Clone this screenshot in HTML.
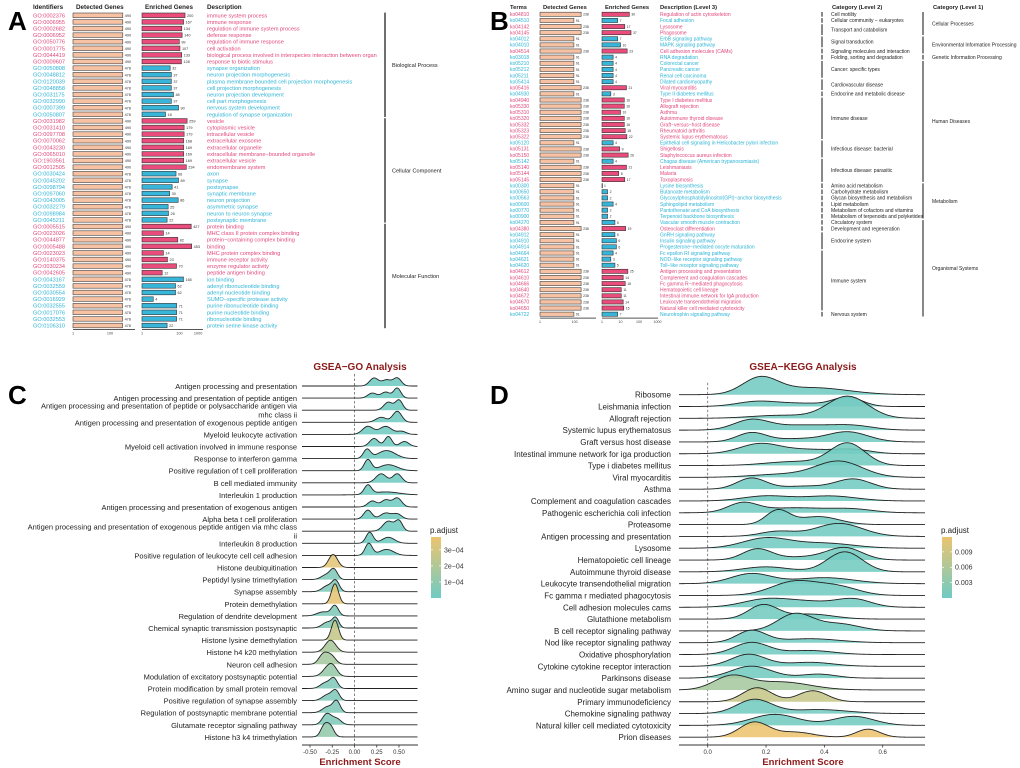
<!DOCTYPE html>
<html><head><meta charset="utf-8">
<style>
html,body{margin:0;padding:0;background:#fff;}
svg{display:block;font-family:"Liberation Sans",sans-serif;}
</style></head>
<body>
<svg id="fig" width="1020" height="768" viewBox="0 0 1020 768" xmlns="http://www.w3.org/2000/svg">
<text x="8" y="30" font-size="26" font-weight="bold">A</text>
<text x="490" y="30" font-size="26" font-weight="bold">B</text>
<text x="8" y="404" font-size="26" font-weight="bold">C</text>
<text x="490" y="404" font-size="26" font-weight="bold">D</text>
<g id="pa"></g>
<g id="pb"></g>
<g id="pc"></g>
<g id="pd"></g>
</svg>
<script>
// ---------- Panel A data ----------
const goIds=["GO:0002376","GO:0006955","GO:0002682","GO:0006952","GO:0050776","GO:0001775","GO:0044419","GO:0009607","GO:0050808","GO:0048812","GO:0120039","GO:0048858","GO:0031175","GO:0032990","GO:0007399","GO:0050807","GO:0031982","GO:0031410","GO:0097708","GO:0070062","GO:0043230","GO:0065010","GO:1903561","GO:0012505","GO:0030424","GO:0045202","GO:0098794","GO:0097060","GO:0043005","GO:0032279","GO:0098984","GO:0045211","GO:0005515","GO:0023026","GO:0044877","GO:0005488","GO:0023023","GO:0140375","GO:0030234","GO:0042605","GO:0043167","GO:0032559","GO:0030554","GO:0016929","GO:0032555","GO:0017076","GO:0032553","GO:0106310"];
const goDetected=[490,490,490,490,490,490,490,490,478,478,478,478,478,478,478,478,490,490,490,490,490,490,490,490,478,478,478,478,478,478,478,478,490,490,490,490,490,490,490,490,478,478,478,478,478,478,478,478];
const goEnriched=[200,167,134,140,99,107,133,128,32,37,37,37,48,37,90,18,259,179,179,168,169,169,169,234,66,89,41,30,86,25,26,22,427,14,82,453,14,23,70,12,165,62,62,4,71,71,71,22];
const goUp=[1,1,1,1,1,1,1,1,0,0,0,0,0,0,0,0,1,1,1,1,1,1,1,1,0,0,0,0,0,0,0,0,1,1,1,1,1,1,1,1,0,0,0,0,0,0,0,0];
const goDesc=["immune system process","immune response","regulation of immune system process","defense response","regulation of immune response","cell activation","biological process involved in interspecies interaction between organ","response to biotic stimulus","synapse organization","neuron projection morphogenesis","plasma membrane bounded cell projection morphogenesis","cell projection morphogenesis","neuron projection development","cell part morphogenesis","nervous system development","regulation of synapse organization","vesicle","cytoplasmic vesicle","intracellular vesicle","extracellular exosome","extracellular organelle","extracellular membrane−bounded organelle","extracellular vesicle","endomembrane system","axon","synapse","postsynapse","synaptic membrane","neuron projection","asymmetric synapse","neuron to neuron synapse","postsynaptic membrane","protein binding","MHC class II protein complex binding","protein−containing complex binding","binding","MHC protein complex binding","immune receptor activity","enzyme regulator activity","peptide antigen binding","ion binding","adenyl ribonucleotide binding","adenyl nucleotide binding","SUMO−specific protease activity","purine ribonucleotide binding","purine nucleotide binding","ribonucleotide binding","protein serine kinase activity"];
const goCats=["Biological Process","Cellular Component","Molecular Function"];
const goCatStart=[0,16,32];
const goCatEnd=[15,31,47];
// ---------- Panel B data ----------
const koIds=["ko04810","ko04510","ko04142","ko04145","ko04012","ko04010","ko04514","ko03018","ko05210","ko05212","ko05211","ko05414","ko05416","ko04930","ko04940","ko05330","ko05310","ko05320","ko05332","ko05323","ko05322","ko05120","ko05131","ko05150","ko05142","ko05140","ko05144","ko05145","ko00300","ko00650","ko00563","ko00600","ko00770","ko00900","ko04270","ko04380","ko04912","ko04910","ko04914","ko04664","ko04621","ko04620","ko04612","ko04610","ko04666","ko04640","ko04672","ko04670","ko04650","ko04722"];
const koDetected=[238,91,238,238,91,91,238,91,91,91,91,91,238,91,238,238,238,238,238,238,238,91,238,238,91,238,238,238,91,91,91,91,91,91,91,238,91,91,91,91,91,91,238,238,238,238,238,238,238,91];
const koEnriched=[30,7,17,37,7,10,23,4,4,4,4,4,21,3,16,16,10,16,16,18,22,4,9,26,4,21,8,17,1,2,2,4,2,2,5,19,5,6,6,4,3,5,25,14,18,11,11,14,15,7];
const koUp=[1,0,1,1,0,0,1,0,0,0,0,0,1,0,1,1,1,1,1,1,1,0,1,1,0,1,1,1,0,0,0,0,0,0,0,1,0,0,0,0,0,0,1,1,1,1,1,1,1,0];
const koDesc=["Regulation of actin cytoskeleton","Focal adhesion","Lysosome","Phagosome","ErbB signaling pathway","MAPK signaling pathway","Cell adhesion molecules (CAMs)","RNA degradation","Colorectal cancer","Pancreatic cancer","Renal cell carcinoma","Dilated cardiomyopathy","Viral myocarditis","Type II diabetes mellitus","Type I diabetes mellitus","Allograft rejection","Asthma","Autoimmune thyroid disease","Graft−versus−host disease","Rheumatoid arthritis","Systemic lupus erythematosus","Epithelial cell signaling in Helicobacter pylori infection","Shigellosis","Staphylococcus aureus infection","Chagas disease (American trypanosomiasis)","Leishmaniasis","Malaria","Toxoplasmosis","Lysine biosynthesis","Butanoate metabolism","Glycosylphosphatidylinositol(GPI)−anchor biosynthesis","Sphingolipid metabolism","Pantothenate and CoA biosynthesis","Terpenoid backbone biosynthesis","Vascular smooth muscle contraction","Osteoclast differentiation","GnRH signaling pathway","Insulin signaling pathway","Progesterone−mediated oocyte maturation","Fc epsilon RI signaling pathway","NOD−like receptor signaling pathway","Toll−like receptor signaling pathway","Antigen processing and presentation","Complement and coagulation cascades","Fc gamma R−mediated phagocytosis","Hematopoietic cell lineage","Intestinal immune network for IgA production","Leukocyte transendothelial migration","Natural killer cell mediated cytotoxicity","Neurotrophin signaling pathway"];
const lvl2Names=["Cell motility","Cellular community − eukaryotes","Transport and catabolism","Signal transduction","Signaling molecules and interaction","Folding, sorting and degradation","Cancer: specific types","Cardiovascular disease","Endocrine and metabolic disease","Immune disease","Infectious disease: bacterial","Infectious disease: parasitic","Amino acid metabolism","Carbohydrate metabolism","Glycan biosynthesis and metabolism","Lipid metabolism","Metabolism of cofactors and vitamins","Metabolism of terpenoids and polyketides","Circulatory system","Development and regeneration","Endocrine system","Immune system","Nervous system"];
const lvl2Start=[0,1,2,4,6,7,8,11,13,14,21,24,28,29,30,31,32,33,34,35,36,39,49];
const lvl2End=[0,1,3,5,6,7,10,12,13,20,23,27,28,29,30,31,32,33,34,35,38,48,49];
const lvl1Names=["Cellular Processes","Environmental Information Processing","Genetic Information Processing","Human Diseases","Metabolism","Organismal Systems"];
const lvl1Start=[0,4,7,8,28,34];
const lvl1End=[3,6,7,27,33,49];
// ---------- Panel C data ----------
const goTerms=["Antigen processing and presentation","Antigen processing and presentation of peptide antigen","Antigen processing and presentation of peptide or polysaccharide antigen via|mhc class ii","Antigen processing and presentation of exogenous peptide antigen","Myeloid leukocyte activation","Myeloid cell activation involved in immune response","Response to interferon gamma","Positive regulation of t cell proliferation","B cell mediated immunity","Interleukin 1 production","Antigen processing and presentation of exogenous antigen","Alpha beta t cell proliferation","Antigen processing and presentation of exogenous peptide antigen via mhc class|ii","Interleukin 8 production","Positive regulation of leukocyte cell cell adhesion","Histone deubiquitination","Peptidyl lysine trimethylation","Synapse assembly","Protein demethylation","Regulation of dendrite development","Chemical synaptic transmission postsynaptic","Histone lysine demethylation","Histone h4 k20 methylation","Neuron cell adhesion","Modulation of excitatory postsynaptic potential","Protein modification by small protein removal","Positive regulation of synapse assembly","Regulation of postsynaptic membrane potential","Glutamate receptor signaling pathway","Histone h3 k4 trimethylation"];
const goPadj=[1e-5,1e-5,1e-5,1e-5,1e-5,1e-5,1e-5,1e-5,1e-5,1e-5,1e-5,1e-5,1e-5,1e-5,1e-5,3.5e-4,5e-5,5e-5,3.6e-4,5e-5,6e-5,2.6e-4,1.8e-4,1.7e-4,1.2e-4,5e-5,5e-5,5e-5,5e-5,1.1e-4];
const goRidges=[
[[0.22,8,0.05],[0.36,6,0.05],[0.48,8,0.045]],
[[0.2,5,0.05],[0.35,6,0.05],[0.48,10,0.04]],
[[0.38,8,0.05],[0.5,10,0.04]],
[[0.3,5,0.06],[0.48,11,0.05]],
[[0.15,8,0.06],[0.35,8,0.07],[0.53,3,0.05]],
[[0.22,8,0.05],[0.38,10,0.04],[0.56,5,0.05]],
[[0.14,9,0.04],[0.36,8,0.1]],
[[0.15,11,0.04],[0.38,6,0.1]],
[[0.3,9,0.06],[0.48,9,0.05]],
[[0.15,9,0.04],[0.35,3,0.15]],
[[0.2,6,0.05],[0.35,7,0.05],[0.48,9,0.05]],
[[0.15,9,0.045],[0.35,6,0.06],[0.48,5,0.05]],
[[0.38,10,0.06],[0.5,10,0.04]],
[[0.17,11,0.04],[0.38,6,0.07]],
[[0.16,12,0.04],[0.36,6,0.08]],
[[-0.24,13,0.05]],
[[-0.31,5,0.06],[-0.23,9,0.04]],
[[-0.3,6,0.06],[-0.21,10,0.04]],
[[-0.22,20,0.04]],
[[-0.35,4,0.07],[-0.22,10,0.04]],
[[-0.3,6,0.06],[-0.21,9,0.035]],
[[-0.22,20,0.04]],
[[-0.27,12,0.06]],
[[-0.35,10,0.05],[-0.26,8,0.05]],
[[-0.3,8,0.06],[-0.24,7,0.05]],
[[-0.32,6,0.06],[-0.23,9,0.04]],
[[-0.3,6,0.06],[-0.21,9,0.04]],
[[-0.3,6,0.06],[-0.2,11,0.04]],
[[-0.31,11,0.05],[-0.2,6,0.05]],
[[-0.34,11,0.04],[-0.27,10,0.04]]];
const goTicks=[-0.5,-0.25,0,0.25,0.5];
const goTickLabels=["-0.50","-0.25","0.00","0.25","0.50"];
const goLegTicks=[3e-4,2e-4,1e-4];
const goLegLabels=["3e−04","2e−04","1e−04"];
// ---------- Panel D data ----------
const keggTerms=["Ribosome","Leishmania infection","Allograft rejection","Systemic lupus erythematosus","Graft versus host disease","Intestinal immune network for iga production","Type i diabetes mellitus","Viral myocarditis","Asthma","Complement and coagulation cascades","Pathogenic escherichia coli infection","Proteasome","Antigen processing and presentation","Lysosome","Hematopoietic cell lineage","Autoimmune thyroid disease","Leukocyte transendothelial migration","Fc gamma r mediated phagocytosis","Cell adhesion molecules cams","Glutathione metabolism","B cell receptor signaling pathway","Nod like receptor signaling pathway","Oxidative phosphorylation","Cytokine cytokine receptor interaction","Parkinsons disease","Amino sugar and nucleotide sugar metabolism","Primary immunodeficiency","Chemokine signaling pathway","Natural killer cell mediated cytotoxicity","Prion diseases"];
const keggPadj=[4e-4,4e-4,6e-4,4e-4,4e-4,6e-4,5e-4,4e-4,4e-4,4e-4,4e-4,4e-4,4e-4,4e-4,5e-4,5e-4,4e-4,4e-4,4e-4,5e-4,4e-4,4e-4,4e-4,4e-4,5e-4,0.0052,0.0082,5e-4,5e-4,0.0119];
const keggRidges=[
[[0.18,16,0.06],[0.36,7,0.12]],
[[0.17,5,0.07],[0.33,3,0.08],[0.48,9,0.05]],
[[0.48,22,0.07],[0.25,3,0.1]],
[[0.15,10,0.06],[0.33,5,0.1],[0.5,4,0.07]],
[[0.15,9,0.05],[0.3,3,0.08],[0.48,10,0.07]],
[[0.18,10,0.07],[0.35,4,0.08],[0.5,4,0.06]],
[[0.48,22,0.06],[0.3,4,0.1]],
[[0.45,16,0.08],[0.25,3,0.1]],
[[0.15,11,0.05],[0.33,3,0.08],[0.5,10,0.06]],
[[0.2,5,0.08],[0.42,5,0.09]],
[[0.12,9,0.05],[0.3,5,0.12],[0.5,3,0.07]],
[[0.24,14,0.04],[0.38,8,0.07]],
[[0.24,5,0.06],[0.45,13,0.08]],
[[0.2,10,0.08],[0.4,5,0.1]],
[[0.17,11,0.05],[0.33,3,0.08],[0.47,12,0.06]],
[[0.2,5,0.08],[0.47,20,0.06]],
[[0.15,10,0.07],[0.4,6,0.1]],
[[0.3,14,0.08],[0.45,8,0.07]],
[[0.2,8,0.08],[0.35,5,0.08],[0.5,8,0.06]],
[[0.19,14,0.05],[0.35,5,0.08]],
[[0.3,17,0.06],[0.45,7,0.07]],
[[0.15,12,0.05],[0.35,4,0.1]],
[[0.15,12,0.06],[0.35,4,0.08]],
[[0.14,12,0.06],[0.35,4,0.08]],
[[0.15,12,0.07],[0.38,4,0.06]],
[[0.08,13,0.06],[0.25,8,0.1]],
[[0.17,14,0.05],[0.36,11,0.05]],
[[0.16,14,0.06],[0.38,4,0.1]],
[[0.23,11,0.08],[0.5,9,0.07]],
[[0.16,15,0.05],[0.3,5,0.06],[0.55,8,0.04]]];
const keggTicks=[0,0.2,0.4,0.6];
const keggTickLabels=["0.0","0.2","0.4","0.6"];
const keggLegTicks=[0.009,0.006,0.003];
const keggLegLabels=["0.009","0.006","0.003"];

const NS="http://www.w3.org/2000/svg";
function mk(parent,tag,attrs,txt){const e=document.createElementNS(NS,tag);for(const k in attrs)e.setAttribute(k,attrs[k]);if(txt!==undefined)e.textContent=txt;parent.appendChild(e);return e;}
const PINK="#e2477d",BLUE="#2db4d6",PEACH="#f6c2a3",BARPINK="#ea4c7c",BARBLUE="#38b6da";

// ================= Panel A =================
(function(){
const g=document.getElementById('pa');
const y0=15.3,dy=6.6;
const detX=(v)=>73+Math.log10(v)*18.5;
const enrX=(v)=>142+Math.log10(v)*18.7;
const hdr=[["Identifiers",33],["Detected Genes",76],["Enriched Genes",145],["Description",207]];
hdr.forEach(h=>{const t=mk(g,'text',{x:h[1],y:9,'font-size':6.3,'font-weight':'bold',fill:'#222'},h[0]);

});
goIds.forEach((id,i)=>{
 const yc=y0+i*dy, col=goUp[i]?PINK:BLUE;
 const t=mk(g,'text',{x:33,y:yc+2,'font-size':5.6,fill:col},id);
 
 
 const r1=mk(g,'rect',{x:73,y:yc-2.3,width:detX(goDetected[i])-73,height:4.6,fill:PEACH,stroke:'#444','stroke-width':0.6});
 
 
 mk(g,'text',{x:detX(goDetected[i])+2,y:yc+1.6,'font-size':3.8,fill:'#333'},goDetected[i]);
 const r2=mk(g,'rect',{x:142,y:yc-2.3,width:Math.max(enrX(goEnriched[i])-142,0.5),height:4.6,fill:goUp[i]?BARPINK:BARBLUE,stroke:'#333','stroke-width':0.6});
 
 
 mk(g,'text',{x:enrX(goEnriched[i])+2,y:yc+1.6,'font-size':3.8,fill:'#333'},goEnriched[i]);
 const d=mk(g,'text',{x:207,y:yc+2,'font-size':5.6,fill:col},goDesc[i]);
 
 
});
goCats.forEach((c,k)=>{
 const ya=y0+goCatStart[k]*dy-3.5, yb=y0+goCatEnd[k]*dy+3.5;
 mk(g,'line',{x1:385,x2:385,y1:ya+0.8,y2:yb-0.8,stroke:'#111','stroke-width':1.2});
 const t=mk(g,'text',{x:392,y:(ya+yb)/2+2,'font-size':5.6,fill:'#222'},c);
 
 
});
const ay=y0+47*dy+4;
mk(g,'line',{x1:73,x2:135,y1:ay,y2:ay,stroke:'#555','stroke-width':1});
mk(g,'line',{x1:142,x2:203,y1:ay,y2:ay,stroke:'#555','stroke-width':1});
[[1,'1'],[100,'100']].forEach(t=>mk(g,'text',{x:detX(t[0]),y:ay+5,'font-size':3.8,fill:'#444','text-anchor':'middle'},t[1]));
[[1,'1'],[100,'100'],[1000,'1000']].forEach(t=>mk(g,'text',{x:enrX(t[0]),y:ay+5,'font-size':3.8,fill:'#444','text-anchor':'middle'},t[1]));
})();

// ================= Panel B =================
(function(){
const g=document.getElementById('pb');
const y0=14.3,dy=6.12;
const detX=(v)=>540+Math.log10(v)*17.3;
const enrX=(v)=>602+Math.log10(v)*18.5;
const hdr=[["Terms",510],["Detected Genes",543],["Enriched Genes",605],["Description (Level 3)",660],["Category (Level 2)",832],["Category (Level 1)",933]];
hdr.forEach(h=>{const t=mk(g,'text',{x:h[1],y:9,'font-size':5.8,'font-weight':'bold',fill:'#222'},h[0]);

});
koIds.forEach((id,i)=>{
 const yc=y0+i*dy, col=koUp[i]?PINK:BLUE;
 const t=mk(g,'text',{x:510,y:yc+1.8,'font-size':5,fill:col},id);
 
 
 const r1=mk(g,'rect',{x:540,y:yc-2.1,width:detX(koDetected[i])-540,height:4.2,fill:PEACH,stroke:'#444','stroke-width':0.6});
 
 
 mk(g,'text',{x:detX(koDetected[i])+2,y:yc+1.4,'font-size':3.4,fill:'#333'},koDetected[i]);
 const r2=mk(g,'rect',{x:602,y:yc-2.1,width:Math.max(enrX(koEnriched[i])-602,0.4),height:4.2,fill:koUp[i]?BARPINK:BARBLUE,stroke:'#333','stroke-width':0.6});
 
 
 mk(g,'text',{x:enrX(koEnriched[i])+2,y:yc+1.4,'font-size':3.4,fill:'#333'},koEnriched[i]);
 const d=mk(g,'text',{x:660,y:yc+1.8,'font-size':5,fill:col},koDesc[i]);
 
 
});
lvl2Names.forEach((n,k)=>{
 const ya=y0+lvl2Start[k]*dy-3, yb=y0+lvl2End[k]*dy+3;
 mk(g,'line',{x1:822,x2:822,y1:ya+0.7,y2:yb-0.7,stroke:'#111','stroke-width':1});
 const t=mk(g,'text',{x:831,y:(ya+yb)/2+1.8,'font-size':5,fill:'#222'},n);
 
 
});
lvl1Names.forEach((n,k)=>{
 const ya=y0+lvl1Start[k]*dy-3, yb=y0+lvl1End[k]*dy+3;
 mk(g,'line',{x1:923,x2:923,y1:ya+0.7,y2:yb-0.7,stroke:'#111','stroke-width':1});
 const t=mk(g,'text',{x:932,y:(ya+yb)/2+1.8,'font-size':5,fill:'#222'},n);
 
 
});
const ay=y0+49*dy+4;
mk(g,'line',{x1:540,x2:596,y1:ay,y2:ay,stroke:'#555','stroke-width':1});
mk(g,'line',{x1:602,x2:658,y1:ay,y2:ay,stroke:'#555','stroke-width':1});
[[1,'1'],[100,'100']].forEach(t=>mk(g,'text',{x:detX(t[0]),y:ay+5,'font-size':3.6,fill:'#444','text-anchor':'middle'},t[1]));
[[1,'1'],[10,'10'],[100,'100'],[1000,'1000']].forEach(t=>mk(g,'text',{x:enrX(t[0]),y:ay+5,'font-size':3.6,fill:'#444','text-anchor':'middle'},t[1]));
})();

// ================= Ridge panels =================
function lerpColor(t){
 t=Math.max(0,Math.min(1,t));
 const a=[110,203,196],b=[236,196,110];
 return 'rgb('+a.map((v,i)=>Math.round(v+(b[i]-v)*t)).join(',')+')';
}
function ridgePanel(g,o){
 const {terms,ridges,padj,pmax,x0,x1,sMin,sMax,yTop,dy,labelX,ticks,tickLabels,legTicks,legLabels,legX,title,titleX,fs}=o;
 const xs=(s)=>x0+(s-sMin)/(sMax-sMin)*(x1-x0);
 const tt=mk(g,'text',{x:titleX,y:370,'font-size':10,'font-weight':'bold',fill:'#8b1a1a','text-anchor':'middle'},title);
 
 
 const pl=o.plotL,pr=o.plotR;
 const zx=xs(0);
 mk(g,'line',{x1:zx,x2:zx,y1:yTop-12,y2:745,stroke:'#666','stroke-width':0.8,'stroke-dasharray':'2.5,2'});
 terms.forEach((term,i)=>{
  const yb=yTop+i*dy;
  const bumps=ridges[i];
  const f=(s)=>bumps.reduce((a,b)=>a+b[1]*Math.exp(-0.5*((s-b[0])/b[2])**2),0);
  let pts=[];
  for(let px=pl;px<=pr;px+=0.75){const s=sMin+(px-x0)/(x1-x0)*(sMax-sMin);pts.push([px,yb-f(s)]);}
  const line=pts.map((p,k)=>(k?'L':'M')+p[0].toFixed(2)+','+p[1].toFixed(2)).join('');
  const fill=mk(g,'path',{d:line+'L'+pr+','+yb+'L'+pl+','+yb+'Z',fill:lerpColor(padj[i]/pmax),'fill-opacity':0.88,stroke:'none'});
  
  
  const ln=mk(g,'path',{d:line,fill:'none',stroke:'#222','stroke-width':0.9});
  
  
  const parts=term.split('|');
  parts.forEach((p,k)=>{
   const yy=yb+3-(parts.length-1)*4.5+k*9;
   const t=mk(g,'text',{x:labelX,y:yy,'font-size':fs,fill:'#222','text-anchor':'end'},p);
   
   
  });
 });
 mk(g,'line',{x1:pl,x2:pr,y1:745,y2:745,stroke:'#333','stroke-width':0.9});
 ticks.forEach((v,k)=>{
  mk(g,'line',{x1:xs(v),x2:xs(v),y1:745,y2:747.5,stroke:'#333','stroke-width':0.8});
  const t=mk(g,'text',{x:xs(v),y:754,'font-size':6,fill:'#333','text-anchor':'middle'},tickLabels[k]);
  
  
 });
 const xt=mk(g,'text',{x:titleX,y:765,'font-size':9.5,'font-weight':'bold',fill:'#8b1a1a','text-anchor':'middle'},'Enrichment Score');
 
 
 const lt=mk(g,'text',{x:legX,y:533,'font-size':8,fill:'#222'},'p.adjust');
 
 
 const id='grad'+title.length;
 const defs=mk(g,'defs',{});
 const lg=mk(defs,'linearGradient',{id:id,x1:0,y1:0,x2:0,y2:1});
 mk(lg,'stop',{offset:0,'stop-color':lerpColor(1)});
 mk(lg,'stop',{offset:1,'stop-color':lerpColor(0)});
 const cb=mk(g,'rect',{x:legX+1,y:537,width:10,height:61,fill:'url(#'+id+')'});
 
 
 legTicks.forEach((v,k)=>{
  const y=598-v/pmax*61;
  mk(g,'line',{x1:legX+1,x2:legX+3,y1:y,y2:y,stroke:'#fff','stroke-width':0.7});
  mk(g,'line',{x1:legX+9,x2:legX+11,y1:y,y2:y,stroke:'#fff','stroke-width':0.7});
  const t=mk(g,'text',{x:legX+14,y:y+2.5,'font-size':7,fill:'#333'},legLabels[k]);
  
  
 });
}
ridgePanel(document.getElementById('pc'),{terms:goTerms,ridges:goRidges,padj:goPadj,pmax:3.8e-4,x0:310,x1:399,sMin:-0.5,sMax:0.5,plotL:302,plotR:418,yTop:386,dy:12.1,labelX:297,ticks:goTicks,tickLabels:goTickLabels,legTicks:goLegTicks,legLabels:goLegLabels,legX:430,title:'GSEA−GO Analysis',titleX:360,fs:7.5});
ridgePanel(document.getElementById('pd'),{terms:keggTerms,ridges:keggRidges,padj:keggPadj,pmax:0.0119,x0:707.7,x1:882.7,sMin:0,sMax:0.6,plotL:679,plotR:925,yTop:394.7,dy:11.81,labelX:671,ticks:keggTicks,tickLabels:keggTickLabels,legTicks:keggLegTicks,legLabels:keggLegLabels,legX:941,title:'GSEA−KEGG Analysis',titleX:803,fs:8.0});
</script>
</body></html>
